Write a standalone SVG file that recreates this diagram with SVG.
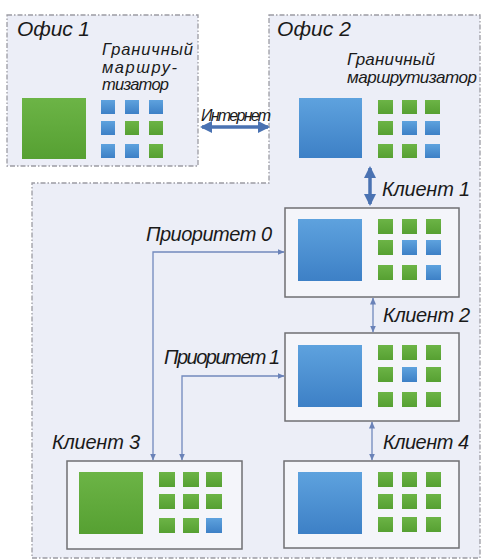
<svg xmlns="http://www.w3.org/2000/svg" width="483" height="560" viewBox="0 0 483 560">
<style>
.region{fill:#eceef7;stroke:#9c9ca4;stroke-width:1.3;stroke-dasharray:5 2 1.5 2}
.box{fill:#f4f5fa;stroke:#6f6f73;stroke-width:1.5}
.g{fill:url(#gg)}
.b{fill:url(#bg)}
.t{font-family:"Liberation Sans",Arial,sans-serif;font-style:italic;fill:#1a1a1a}
.thick{stroke:#4a72b2;stroke-width:3.5;fill:none}
.thin{stroke:#7189bd;stroke-width:1.3;fill:none}
</style>
<defs>
<linearGradient id="gg" x1="0" y1="0" x2="0" y2="1">
<stop offset="0" stop-color="#6cb446"/><stop offset="1" stop-color="#56a032"/>
</linearGradient>
<linearGradient id="bg" x1="0" y1="0" x2="0" y2="1">
<stop offset="0" stop-color="#5ea2de"/><stop offset="1" stop-color="#3d80c6"/>
</linearGradient>
<marker id="ah" markerUnits="userSpaceOnUse" markerWidth="12" markerHeight="12" viewBox="0 0 12 12" refX="10" refY="6" orient="auto-start-reverse">
<path d="M0,0 L12,6 L0,12 Z" fill="#4a72b2"/>
</marker>
<marker id="at" markerUnits="userSpaceOnUse" markerWidth="7" markerHeight="7" viewBox="0 0 7 7" refX="6.5" refY="3.5" orient="auto-start-reverse">
<path d="M0,0.5 L7,3.5 L0,6.5 Z" fill="#6a82b8"/>
</marker>
</defs>
<rect width="483" height="560" fill="#ffffff"/>
<g id="office2">
<path class="region" d="M269,15 L480,15 L480,558 L32,558 L32,183 L269,183 Z"/>
<text class="t" x="277" y="36" font-size="21" textLength="74">Офис 2</text>
<text class="t" x="347" y="65" font-size="17" textLength="88">Граничный</text>
<text class="t" x="347" y="83" font-size="17" textLength="130">маршрутизатор</text>
<rect class="b" x="299" y="98" width="63" height="60"/>
<rect class="g" x="378" y="100" width="15" height="14"/>
<rect class="g" x="402" y="100" width="15" height="14"/>
<rect class="g" x="425" y="100" width="15" height="14"/>
<rect class="g" x="378" y="121" width="15" height="14"/>
<rect class="b" x="402" y="121" width="15" height="14"/>
<rect class="b" x="425" y="121" width="15" height="14"/>
<rect class="g" x="378" y="144" width="15" height="14"/>
<rect class="g" x="402" y="144" width="15" height="14"/>
<rect class="b" x="425" y="144" width="15" height="14"/>
</g>
<g id="office1">
<rect class="region" x="7" y="15" width="191" height="151"/>
<text class="t" x="17" y="36" font-size="21" textLength="73">Офис 1</text>
<text class="t" x="102" y="55" font-size="16.5" textLength="91">Граничный</text>
<text class="t" x="102" y="73" font-size="16.5" textLength="75">маршру-</text>
<text class="t" x="102" y="90" font-size="16.5" textLength="67">тизатор</text>
<rect class="g" x="22" y="98" width="64" height="61"/>
<rect class="b" x="101" y="100" width="14" height="14"/>
<rect class="b" x="125" y="100" width="14" height="14"/>
<rect class="b" x="149" y="100" width="14" height="14"/>
<rect class="b" x="101" y="121" width="14" height="14"/>
<rect class="g" x="125" y="121" width="14" height="14"/>
<rect class="g" x="149" y="121" width="14" height="14"/>
<rect class="b" x="101" y="144" width="14" height="14"/>
<rect class="b" x="125" y="144" width="14" height="14"/>
<rect class="g" x="149" y="144" width="14" height="14"/>
</g>
<g id="client1">
<rect class="box" x="285" y="208" width="174" height="89"/>
<rect class="b" x="298" y="219" width="64" height="62"/>
<rect class="g" x="378" y="219" width="15" height="15"/>
<rect class="g" x="402" y="219" width="15" height="15"/>
<rect class="g" x="426" y="219" width="15" height="15"/>
<rect class="g" x="378" y="240" width="15" height="15"/>
<rect class="b" x="402" y="240" width="15" height="15"/>
<rect class="b" x="426" y="240" width="15" height="15"/>
<rect class="g" x="378" y="265" width="15" height="15"/>
<rect class="g" x="402" y="265" width="15" height="15"/>
<rect class="b" x="426" y="265" width="15" height="15"/>
</g>
<g id="client2">
<rect class="box" x="285" y="333" width="174" height="88"/>
<rect class="b" x="298" y="345" width="64" height="62"/>
<rect class="g" x="378" y="345" width="15" height="15"/>
<rect class="g" x="402" y="345" width="15" height="15"/>
<rect class="g" x="426" y="345" width="15" height="15"/>
<rect class="g" x="378" y="367" width="15" height="15"/>
<rect class="b" x="402" y="367" width="15" height="15"/>
<rect class="g" x="426" y="367" width="15" height="15"/>
<rect class="g" x="378" y="392" width="15" height="15"/>
<rect class="g" x="402" y="392" width="15" height="15"/>
<rect class="g" x="426" y="392" width="15" height="15"/>
</g>
<g id="client4">
<rect class="box" x="284" y="461" width="175" height="87"/>
<rect class="b" x="298" y="472" width="64" height="62"/>
<rect class="g" x="378" y="472" width="15" height="15"/>
<rect class="g" x="402" y="472" width="15" height="15"/>
<rect class="g" x="426" y="472" width="15" height="15"/>
<rect class="g" x="378" y="494" width="15" height="15"/>
<rect class="g" x="402" y="494" width="15" height="15"/>
<rect class="g" x="426" y="494" width="15" height="15"/>
<rect class="g" x="378" y="517" width="15" height="15"/>
<rect class="g" x="402" y="517" width="15" height="15"/>
<rect class="g" x="426" y="517" width="15" height="15"/>
</g>
<g id="client3">
<rect class="box" x="67" y="461" width="175" height="88"/>
<rect class="g" x="79" y="472" width="64" height="62"/>
<rect class="g" x="159" y="472" width="16" height="15"/>
<rect class="g" x="183" y="472" width="16" height="15"/>
<rect class="g" x="206" y="472" width="16" height="15"/>
<rect class="g" x="159" y="494" width="16" height="15"/>
<rect class="g" x="183" y="494" width="16" height="15"/>
<rect class="g" x="206" y="494" width="16" height="15"/>
<rect class="g" x="159" y="518" width="16" height="15"/>
<rect class="g" x="183" y="518" width="16" height="15"/>
<rect class="b" x="206" y="518" width="16" height="15"/>
</g>
<g id="connectors">
<line class="thick" x1="202" y1="127" x2="268" y2="127" marker-start="url(#ah)" marker-end="url(#ah)"/>
<line class="thick" x1="370" y1="168" x2="370" y2="204" marker-start="url(#ah)" marker-end="url(#ah)"/>
<line class="thin" x1="373" y1="298" x2="373" y2="332" marker-start="url(#at)" marker-end="url(#at)"/>
<line class="thin" x1="372" y1="422" x2="372" y2="460" marker-start="url(#at)" marker-end="url(#at)"/>
<polyline class="thin" points="153,460 153,252 284,252" marker-start="url(#at)" marker-end="url(#at)"/>
<polyline class="thin" points="182,460 182,376 284,376" marker-start="url(#at)" marker-end="url(#at)"/>
</g>
<g id="labels">
<text class="t" x="201" y="121" font-size="16" textLength="70">Интернет</text>
<text class="t" x="382" y="196" font-size="20" textLength="88">Клиент 1</text>
<text class="t" x="146" y="241" font-size="20" textLength="126">Приоритет 0</text>
<text class="t" x="383" y="322" font-size="20" textLength="87">Клиент 2</text>
<text class="t" x="164" y="364" font-size="20" textLength="116">Приоритет 1</text>
<text class="t" x="52" y="449" font-size="20" textLength="88">Клиент 3</text>
<text class="t" x="383" y="449" font-size="20" textLength="86">Клиент 4</text>
</g>
</svg>
